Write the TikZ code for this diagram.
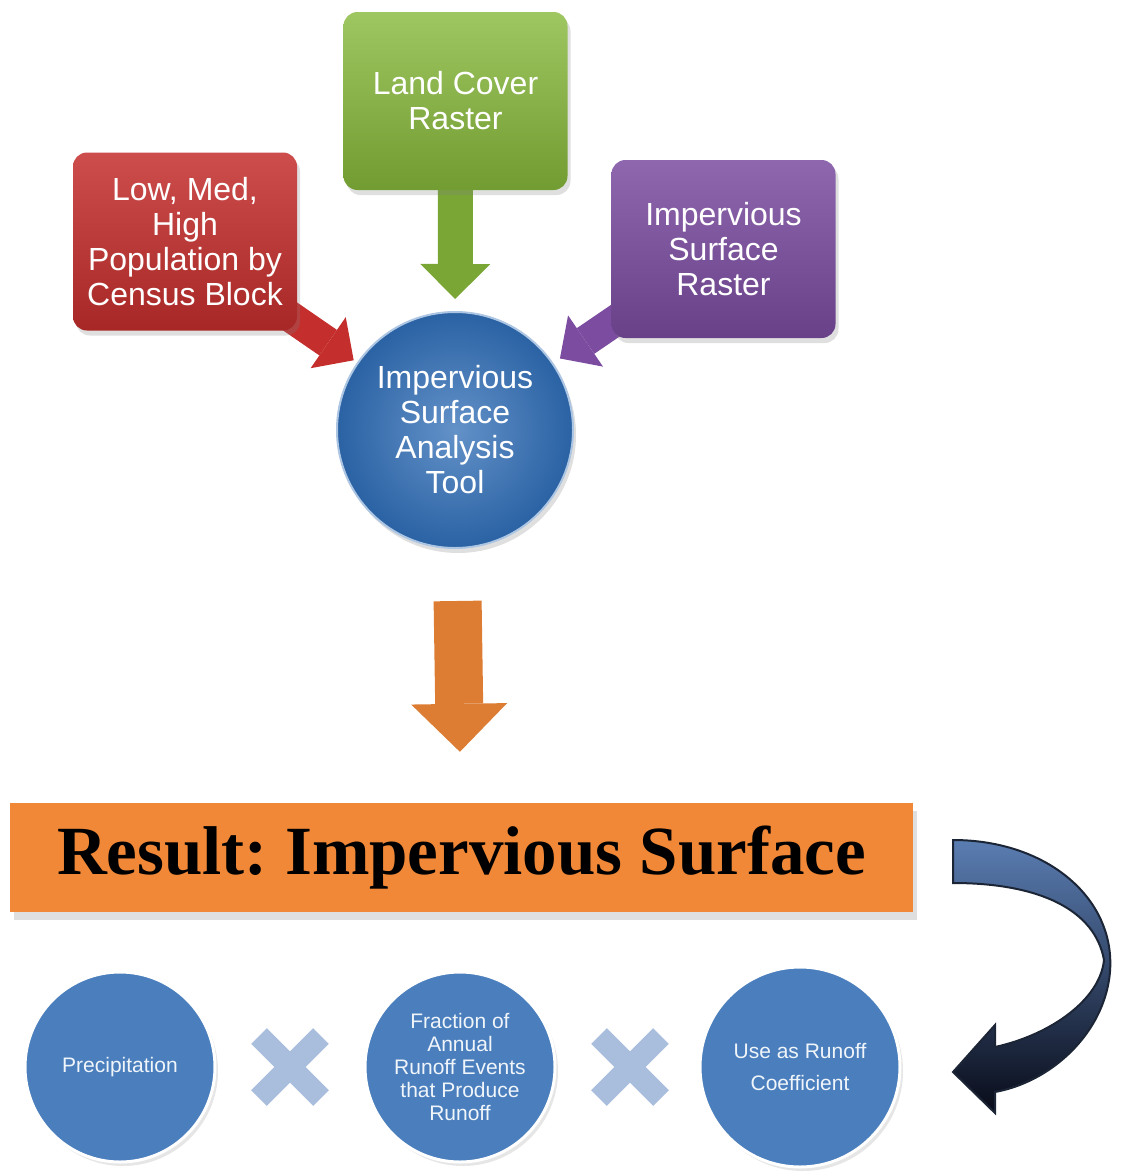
\documentclass[tikz,border=0pt]{standalone}
\usepackage{fontspec}
\setmainfont{Liberation Sans}
\newfontfamily\titlefont{Liberation Serif}
\usetikzlibrary{positioning}
\usetikzlibrary{arrows.meta}
\usetikzlibrary{shadows}
\usetikzlibrary{shapes.misc}
\usetikzlibrary{calc}
\usetikzlibrary{backgrounds}
\definecolor{landgreen}{HTML}{86B83A}
\definecolor{popred}{HTML}{C42E2C}
\definecolor{rastpurple}{HTML}{7B4CA0}
\definecolor{toolblue}{HTML}{2F6DB6}
\definecolor{resorange}{HTML}{F08838}
\definecolor{stepblue}{HTML}{4A7EBD}
\definecolor{crossblue}{HTML}{A9BDDD}
\definecolor{curlblue}{HTML}{5A7DB2}
\definecolor{curldark}{HTML}{080B18}
\tikzset{x=1pt,y=-1pt,
    node distance=340pt,
    inbox/.style={
        rounded corners=14pt,
        minimum width=224pt,
        minimum height=178pt,
        align=center,
        text=white,
        font=\fontsize{32}{35}\selectfont,
        drop shadow={opacity=0.25,shadow xshift=3pt,shadow yshift=-5pt}},
    stepcircle/.style={
        circle,
        fill=stepblue,
        draw=white,
        line width=3pt,
        minimum size=190pt,
        align=center,
        text=white!92!stepblue,
        font=\fontsize{21}{23}\selectfont,
        drop shadow={opacity=0.2,shadow xshift=3pt,shadow yshift=-4pt}},
    timesmark/.style={
        cross out,
        draw=crossblue,
        line width=22pt,
        outer sep=0pt,
        minimum size=62pt},
    blockarrow/.style={
        line width=#1,
        -{Triangle[length=#1,width=2*#1,line width=0pt]}}}

\begin{document}
\begin{tikzpicture}
    \useasboundingbox (0,0) rectangle (1120,1175);

    \node[inbox,top color=landgreen!80!white,bottom color=landgreen!85!black] (land) at (455.5,101) {Land Cover\\Raster};
    \node[inbox,top color=popred!85!white,bottom color=popred!85!black] (pop) at (185,241.5) {Low, Med,\\High\\Population by\\Census Block};
    \node[inbox,top color=rastpurple!85!white,bottom color=rastpurple!85!black] (imp) at (723.5,249) {Impervious\\Surface\\Raster};
    \node[circle,minimum size=236pt,inner color=toolblue!75!white,outer color=toolblue!90!black,draw=toolblue!40!white,line width=2pt,
        align=center,text=white,font=\fontsize{32}{35}\selectfont,
        drop shadow={opacity=0.25,shadow xshift=3pt,shadow yshift=-5pt}] (tool) at (455,430) {Impervious\\Surface\\Analysis\\Tool};

    \node[fill=resorange,minimum width=903pt,minimum height=109pt,
        font=\titlefont\bfseries\fontsize{69}{72}\selectfont,
        drop shadow={opacity=0.25,shadow xshift=4pt,shadow yshift=-8pt}] (result) at (461.5,857.5) {\frenchspacing Result: Impervious Surface};

    \node[stepcircle] (prec) at (120,1067) {Precipitation};
    \node[stepcircle,right of=prec] (frac) {Fraction of\\Annual\\Runoff Events\\that Produce\\Runoff};
    \node[stepcircle,right of=frac,minimum size=200pt,font=\fontsize{21}{32}\selectfont] (coef) {Use as Runoff\\Coefficient};
    \node[timesmark] (x1) at ($(prec)!0.5!(frac)$) {};
    \node[timesmark] (x2) at ($(frac)!0.5!(coef)$) {};

    \coordinate (popout) at ($(pop.south east)+(-30,-30)$);
    \coordinate (impout) at ($(imp.south west)+(15,-25)$);

    \begin{pgfonlayer}{background}
        \draw[blockarrow=35pt,draw=landgreen!90!black,fill=landgreen!90!black,shorten >=12pt] (land) -- (tool);
        \draw[blockarrow=31pt,draw=popred,fill=popred,shorten >=4pt] (popout) -- (tool);
        \draw[blockarrow=31pt,draw=rastpurple,fill=rastpurple,shorten >=8pt] (impout) -- (tool);
        \draw[blockarrow=48pt,draw=resorange!92!black,fill=resorange!92!black,shorten <=52pt,shorten >=51pt] (tool) -- (result);
    \end{pgfonlayer}

    \shade[top color=curlblue,middle color=curlblue!60!curldark,bottom color=curldark,draw=curlblue!30!black,line width=2pt]
        (953,840) .. controls (1040,840) and (1105,890) .. (1110,955)
        .. controls (1115,1020) and (1060,1080) .. (995,1092)
        -- (995,1113) -- (953,1072) -- (995,1025) -- (995,1047)
        .. controls (1050,1035) and (1100,1000) .. (1104,960)
        .. controls (1095,910) and (1040,883) .. (953,883) -- cycle;
\end{tikzpicture}
\end{document}
